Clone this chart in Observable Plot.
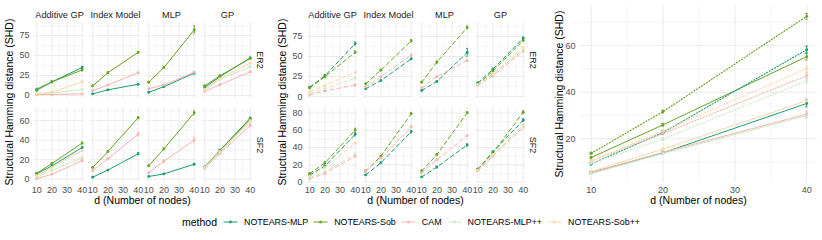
<!DOCTYPE html>
<html><head><meta charset="utf-8">
<script src="https://cdn.jsdelivr.net/npm/d3@7"></script>
<script src="https://cdn.jsdelivr.net/npm/@observablehq/plot@0.6"></script>
<style>
body{margin:0;background:#fff;}
#wrap{position:relative;width:822px;height:240px;font-family:"Liberation Sans",Arial,sans-serif;overflow:hidden;background:#fff;}
#wrap svg{position:absolute;overflow:visible;}
.ytitle{position:absolute;font-size:10.5px;color:#000;white-space:nowrap;transform:translate(-50%,-50%) rotate(-90deg);}
.xtitle{position:absolute;font-size:10.5px;color:#000;white-space:nowrap;transform:translate(-50%,-50%);}
.strip{position:absolute;font-size:9px;color:#1a1a1a;white-space:nowrap;transform:translate(-50%,-50%) rotate(90deg);}
#legend{position:absolute;left:182px;top:222px;transform:translateY(-50%);display:flex;align-items:center;font-size:8.9px;color:#000;white-space:nowrap;}
#legend .ttl{font-size:10.5px;margin-right:5px;}
#legend .item{display:flex;align-items:center;margin-right:4px;}
#legend .item svg{position:static;margin-right:5px;}
</style></head><body><div id="wrap"></div>
<script>
const methods = ["NOTEARS-MLP","NOTEARS-Sob","CAM","NOTEARS-MLP++","NOTEARS-Sob++"];
const methodColors = ["#1b9e77","#66a61e","#fbb4ae","#ccebc5","#fed9a6"];
const models = ["Additive GP","Index Model","MLP","GP"];
const graphs = ["ER2","SF2"];
const nodes = [10,20,40];
const xTicks = [10,20,30,40];
const xMinor = [15,25,35];
const ticksER2 = [0,25,50,75];
const minorER2 = [12.5,37.5,62.5,87.5];
const ticksSF2 = [0,20,40,60,80];
const minorSF2 = [10,30,50,70];
const ticksRight = [0,20,40,60];
const minorRight = [10,30,50,70];
const yTitle = "Structural Hamming distance (SHD)";
const xTitle = "d (Number of nodes)";

// rows: [model, method, SHD at d=10,20,40, error half-width at d=10,20,40]
const solidER2 = [
  ["Additive GP","NOTEARS-MLP",[6.5,17,35],[1,1,1.5]],
  ["Additive GP","NOTEARS-Sob",[8,17,32],[1,1,1.5]],
  ["Additive GP","CAM",[1,1.2,2],[0.5,0.5,0.5]],
  ["Additive GP","NOTEARS-MLP++",[2,3,7.5],[0.5,0.5,0.8]],
  ["Additive GP","NOTEARS-Sob++",[2,4,17],[0.5,0.5,1]],
  ["Index Model","NOTEARS-MLP",[2,7,14],[0.5,0.5,1]],
  ["Index Model","NOTEARS-Sob",[12,28.5,54],[1,1,1]],
  ["Index Model","CAM",[6,13,28.5],[0.5,1,1]],
  ["MLP","NOTEARS-MLP",[4,11,28],[0.5,0.5,2]],
  ["MLP","NOTEARS-Sob",[16.5,35,82],[1,1,5]],
  ["MLP","CAM",[8.5,13,29],[0.5,1,1]],
  ["GP","NOTEARS-MLP",[10,23.5,47],[1,1,1]],
  ["GP","NOTEARS-Sob",[12,24.5,46.5],[1,1,1]],
  ["GP","CAM",[5,13.5,29.5],[0.5,1,1]],
  ["GP","NOTEARS-MLP++",[7,20,36],[0.5,1,1]],
  ["GP","NOTEARS-Sob++",[8,21,40.5],[0.5,1,1]]
];
const solidSF2 = [
  ["Additive GP","NOTEARS-MLP",[5.5,13.5,32.5],[0.5,1,1]],
  ["Additive GP","NOTEARS-Sob",[6,16,37],[0.5,1,1]],
  ["Additive GP","CAM",[0.5,5,19],[0.5,0.5,1.5]],
  ["Additive GP","NOTEARS-MLP++",[2,9,22],[0.5,0.5,1.5]],
  ["Additive GP","NOTEARS-Sob++",[3.5,12,29.5],[0.5,0.5,1]],
  ["Index Model","NOTEARS-MLP",[2,9.3,26],[0.5,0.5,1]],
  ["Index Model","NOTEARS-Sob",[12,28.3,63],[0.5,1,1]],
  ["Index Model","CAM",[8.7,21,46],[0.5,1,2]],
  ["MLP","NOTEARS-MLP",[2.7,5.3,15.3],[0.5,0.5,1]],
  ["MLP","NOTEARS-Sob",[13.7,31,68],[0.5,1,2]],
  ["MLP","CAM",[6.7,18.3,40],[0.5,1,3]],
  ["GP","NOTEARS-MLP",[12.5,29.5,62.5],[0.5,1,1]],
  ["GP","NOTEARS-Sob",[12,29,61.5],[0.5,1,1]],
  ["GP","CAM",[11,26.5,55],[0.5,1,1]],
  ["GP","NOTEARS-MLP++",[11.5,28,58],[0.5,1,1]],
  ["GP","NOTEARS-Sob++",[12,28.5,60],[0.5,1,1]]
];
const dashedER2 = [
  ["Additive GP","NOTEARS-MLP",[11.8,26,66],[1,1.5,2]],
  ["Additive GP","NOTEARS-Sob",[11,24.8,55.3],[1,1,1.5]],
  ["Additive GP","CAM",[2.5,7,14.6],[0.5,0.5,1]],
  ["Additive GP","NOTEARS-MLP++",[4,10,23],[0.5,0.5,1]],
  ["Additive GP","NOTEARS-Sob++",[6,14,30],[0.5,0.5,1.5]],
  ["Index Model","NOTEARS-MLP",[9.8,20,47],[0.5,1,1]],
  ["Index Model","NOTEARS-Sob",[16,33,69.5],[1,1,1.5]],
  ["Index Model","CAM",[12,25,51.7],[0.5,1,1.5]],
  ["MLP","NOTEARS-MLP",[7.8,19,55],[0.5,1,5]],
  ["MLP","NOTEARS-Sob",[18,43,86],[1,1.5,2]],
  ["MLP","CAM",[11,25,45],[0.5,1,1]],
  ["GP","NOTEARS-MLP",[17,34,72.8],[1,1.5,1.5]],
  ["GP","NOTEARS-Sob",[15,32,70],[1,1,1]],
  ["GP","CAM",[14,26,56.6],[0.5,1,1]],
  ["GP","NOTEARS-MLP++",[15,28,58],[0.5,1,1]],
  ["GP","NOTEARS-Sob++",[15,29,60.6],[0.5,1,1]]
];
const dashedSF2 = [
  ["Additive GP","NOTEARS-MLP",[8.3,18.6,55.4],[1,1,2]],
  ["Additive GP","NOTEARS-Sob",[9.9,22.4,60.3],[1,1.5,2]],
  ["Additive GP","CAM",[4,10,30],[0.5,0.5,1]],
  ["Additive GP","NOTEARS-MLP++",[5,12,32.6],[0.5,0.5,1]],
  ["Additive GP","NOTEARS-Sob++",[7,17,45],[0.5,0.5,1]],
  ["Index Model","NOTEARS-MLP",[8.3,22.4,58.4],[0.5,1,1.5]],
  ["Index Model","NOTEARS-Sob",[12.9,30,79.3],[1,1,1]],
  ["Index Model","CAM",[13,28,64],[0.5,1,1.5]],
  ["MLP","NOTEARS-MLP",[6,17.4,43],[0.5,1,1.5]],
  ["MLP","NOTEARS-Sob",[12.9,31.9,80.4],[1,1,1]],
  ["MLP","CAM",[11,26,53.8],[0.5,1,1]],
  ["GP","NOTEARS-MLP",[15,35,71.7],[1,1,1.5]],
  ["GP","NOTEARS-Sob",[14.8,33.7,81],[1,1,1.5]],
  ["GP","CAM",[13,30,64],[0.5,1,1]],
  ["GP","NOTEARS-MLP++",[14,31,63],[0.5,1,1]],
  ["GP","NOTEARS-Sob++",[14,32,66],[0.5,1,1]]
];
// right panel rows: [method, SHD at d=10,20,40, error half-width]
const rightSolid = [
  ["NOTEARS-MLP",[5.5,14,35.2],[0.4,0.5,1.5]],
  ["NOTEARS-Sob",[12,26,55.3],[0.4,0.6,1.5]],
  ["CAM",[5.5,14.2,30.6],[0.4,0.5,1.2]],
  ["NOTEARS-MLP++",[5,13.7,30],[0.3,0.5,1.2]],
  ["NOTEARS-Sob++",[6,15.6,36.3],[0.3,0.5,1.2]]
];
const rightDotted = [
  ["NOTEARS-MLP",[9.2,22.7,58.3],[0.4,0.8,1.5]],
  ["NOTEARS-Sob",[13.8,31.7,72.6],[0.4,0.6,1.2]],
  ["CAM",[10.5,22.3,47.1],[0.4,0.6,1.2]],
  ["NOTEARS-MLP++",[9.5,19.9,45],[0.4,0.6,1.2]],
  ["NOTEARS-Sob++",[10.5,23.4,50.2],[0.4,0.6,1.2]]
];

const wrap = document.getElementById("wrap");
const FONT = '"Liberation Sans", Arial, sans-serif';
const order = m => methods.indexOf(m);
function tidy(rows){
  return rows.flatMap(([model, method, vals, errs]) =>
    nodes.map((d,i)=>({model, method, d, v: vals[i], e: errs[i]})))
    .sort((a,b)=>order(a.method)-order(b.method));
}
function yDomain(data){
  const lo = d3.min(data, r=>r.v-r.e), hi = d3.max(data, r=>r.v+r.e);
  const pad = (hi-lo)*0.05;
  return [lo-pad, hi+pad];
}
function commonMarks(data, dash, ticks, minor, dom, withFx, cap){
  const inDom = t => t>=dom[0] && t<=dom[1];
  const fx = withFx ? {fx:"model"} : {};
  const sw = dash === "1.2,1.8" ? 1.1 : 1;
  return [
    Plot.gridX(xMinor, {stroke:"#ebebeb", strokeOpacity:1, strokeWidth:0.5}),
    Plot.gridY(minor.filter(inDom), {stroke:"#ebebeb", strokeOpacity:1, strokeWidth:0.5}),
    Plot.gridX(xTicks, {stroke:"#ebebeb", strokeOpacity:1, strokeWidth:1}),
    Plot.gridY(ticks.filter(inDom), {stroke:"#ebebeb", strokeOpacity:1, strokeWidth:1}),
    Plot.line(data, {...fx, x:"d", y:"v", z:"method", stroke:"method", strokeWidth:sw, strokeDasharray:dash}),
    Plot.ruleX(data, {...fx, x:"d", y1:r=>r.v-r.e, y2:r=>r.v+r.e, stroke:"method", strokeWidth:1}),
    Plot.ruleY(data, {...fx, y:r=>r.v-r.e, x1:r=>r.d-cap, x2:r=>r.d+cap, stroke:"method", strokeWidth:0.8}),
    Plot.ruleY(data, {...fx, y:r=>r.v+r.e, x1:r=>r.d-cap, x2:r=>r.d+cap, stroke:"method", strokeWidth:0.8}),
    Plot.dot(data, {...fx, x:"d", y:"v", fill:"method", r:1.4})
  ];
}
function facetRow({rows, dash, ticks, minor, left, top, width, height, ml, mr, mt, mb, showX, showFx}){
  const data = tidy(rows);
  const dom = yDomain(data);
  const inDom = t => t>=dom[0] && t<=dom[1];
  const marks = commonMarks(data, dash, ticks, minor, dom, true, 0.5);
  marks.push(Plot.axisY(ticks.filter(inDom), {tickSize:0, tickPadding:5, label:null, fontSize:9}));
  if (showX) marks.push(Plot.axisX(xTicks, {tickSize:0, tickPadding:4, label:null, fontSize:9}));
  if (showFx) marks.push(Plot.axisFx({anchor:"top", tickSize:0, tickPadding:5, label:null, fontSize:9.2, color:"#1a1a1a"}));
  const svg = Plot.plot({
    width, height, marginLeft:ml, marginRight:mr, marginTop:mt, marginBottom:mb,
    style:{fontFamily:FONT, fontSize:"9px", color:"#4d4d4d", background:"transparent", overflow:"visible"},
    fx:{domain:models, paddingInner:0.11, paddingOuter:0, label:null, axis: showFx ? undefined : null},
    x:{domain:[8.5,41.5], label:null, axis: showX ? undefined : null},
    y:{domain:dom, label:null},
    color:{domain:methods, range:methodColors},
    marks
  });
  svg.style.left = left+"px"; svg.style.top = top+"px";
  wrap.appendChild(svg);
}

// left: solid, middle: dashed
facetRow({rows:solidER2, dash:null, ticks:ticksER2, minor:minorER2, left:0, top:0, width:270, height:100, ml:33, mr:18, mt:22, mb:2, showX:false, showFx:true});
facetRow({rows:solidSF2, dash:null, ticks:ticksSF2, minor:minorSF2, left:0, top:100, width:270, height:100, ml:33, mr:18, mt:7, mb:18, showX:true, showFx:false});
facetRow({rows:dashedER2, dash:"4,3", ticks:ticksER2, minor:minorER2, left:270, top:0, width:275, height:100, ml:35, mr:19, mt:22, mb:2, showX:false, showFx:true});
facetRow({rows:dashedSF2, dash:"4,3", ticks:ticksSF2, minor:minorSF2, left:270, top:100, width:275, height:100, ml:35, mr:19, mt:7, mb:18, showX:true, showFx:false});

// right panel
{
  const tag = (rows, style) => rows.flatMap(([method, vals, errs]) =>
      nodes.map((d,i)=>({method, style, d, v: vals[i], e: errs[i]})));
  const solid = tag(rightSolid, "solid").sort((a,b)=>order(a.method)-order(b.method));
  const dotted = tag(rightDotted, "dotted").sort((a,b)=>order(a.method)-order(b.method));
  const dom = yDomain(solid.concat(dotted));
  const inDom = t => t>=dom[0] && t<=dom[1];
  const m1 = commonMarks(solid, null, ticksRight, minorRight, dom, false, 0.2);
  const m2 = commonMarks(dotted, "1.2,1.8", ticksRight, minorRight, dom, false, 0.2).slice(4);
  const svg = Plot.plot({
    width:277, height:200, marginLeft:35, marginRight:5, marginTop:5, marginBottom:18,
    style:{fontFamily:FONT, fontSize:"9px", color:"#4d4d4d", background:"transparent", overflow:"visible"},
    x:{domain:[8.5,41.5], label:null},
    y:{domain:dom, label:null},
    color:{domain:methods, range:methodColors},
    marks:[...m1, ...m2,
      Plot.axisY(ticksRight.filter(inDom), {tickSize:0, tickPadding:5, label:null, fontSize:9}),
      Plot.axisX(xTicks, {tickSize:0, tickPadding:4, label:null, fontSize:9})]
  });
  svg.style.left = "545px"; svg.style.top = "0px";
  wrap.appendChild(svg);
}

function addText(cls, text, x, y){
  const el = document.createElement("div");
  el.className = cls; el.textContent = text;
  el.style.left = x+"px"; el.style.top = y+"px";
  wrap.appendChild(el);
}
addText("ytitle", yTitle, 9, 102);
addText("ytitle", yTitle, 282, 102);
addText("ytitle", yTitle, 559, 93.5);
addText("xtitle", xTitle, 142.5, 200);
addText("xtitle", xTitle, 415.5, 200);
addText("xtitle", xTitle, 698.5, 200);
addText("strip", graphs[0], 260, 60);
addText("strip", graphs[1], 260, 144.5);
addText("strip", graphs[0], 533, 60);
addText("strip", graphs[1], 533, 144.5);

// legend
const legend = document.createElement("div");
legend.id = "legend";
const ttl = document.createElement("span"); ttl.className = "ttl"; ttl.textContent = "method";
legend.appendChild(ttl);
methods.forEach((m,i) => {
  const item = document.createElement("span"); item.className = "item";
  const ns = "http://www.w3.org/2000/svg";
  const s = document.createElementNS(ns, "svg");
  s.setAttribute("width", 17); s.setAttribute("height", 10);
  const ln = document.createElementNS(ns, "line");
  ln.setAttribute("x1", 1.5); ln.setAttribute("x2", 15.5); ln.setAttribute("y1", 5); ln.setAttribute("y2", 5);
  ln.setAttribute("stroke", methodColors[i]); ln.setAttribute("stroke-width", 1);
  const c = document.createElementNS(ns, "circle");
  c.setAttribute("cx", 8.5); c.setAttribute("cy", 5); c.setAttribute("r", 1.4); c.setAttribute("fill", methodColors[i]);
  s.appendChild(ln); s.appendChild(c);
  const t = document.createElement("span"); t.textContent = m;
  item.appendChild(s); item.appendChild(t);
  legend.appendChild(item);
});
wrap.appendChild(legend);
</script></body></html>
